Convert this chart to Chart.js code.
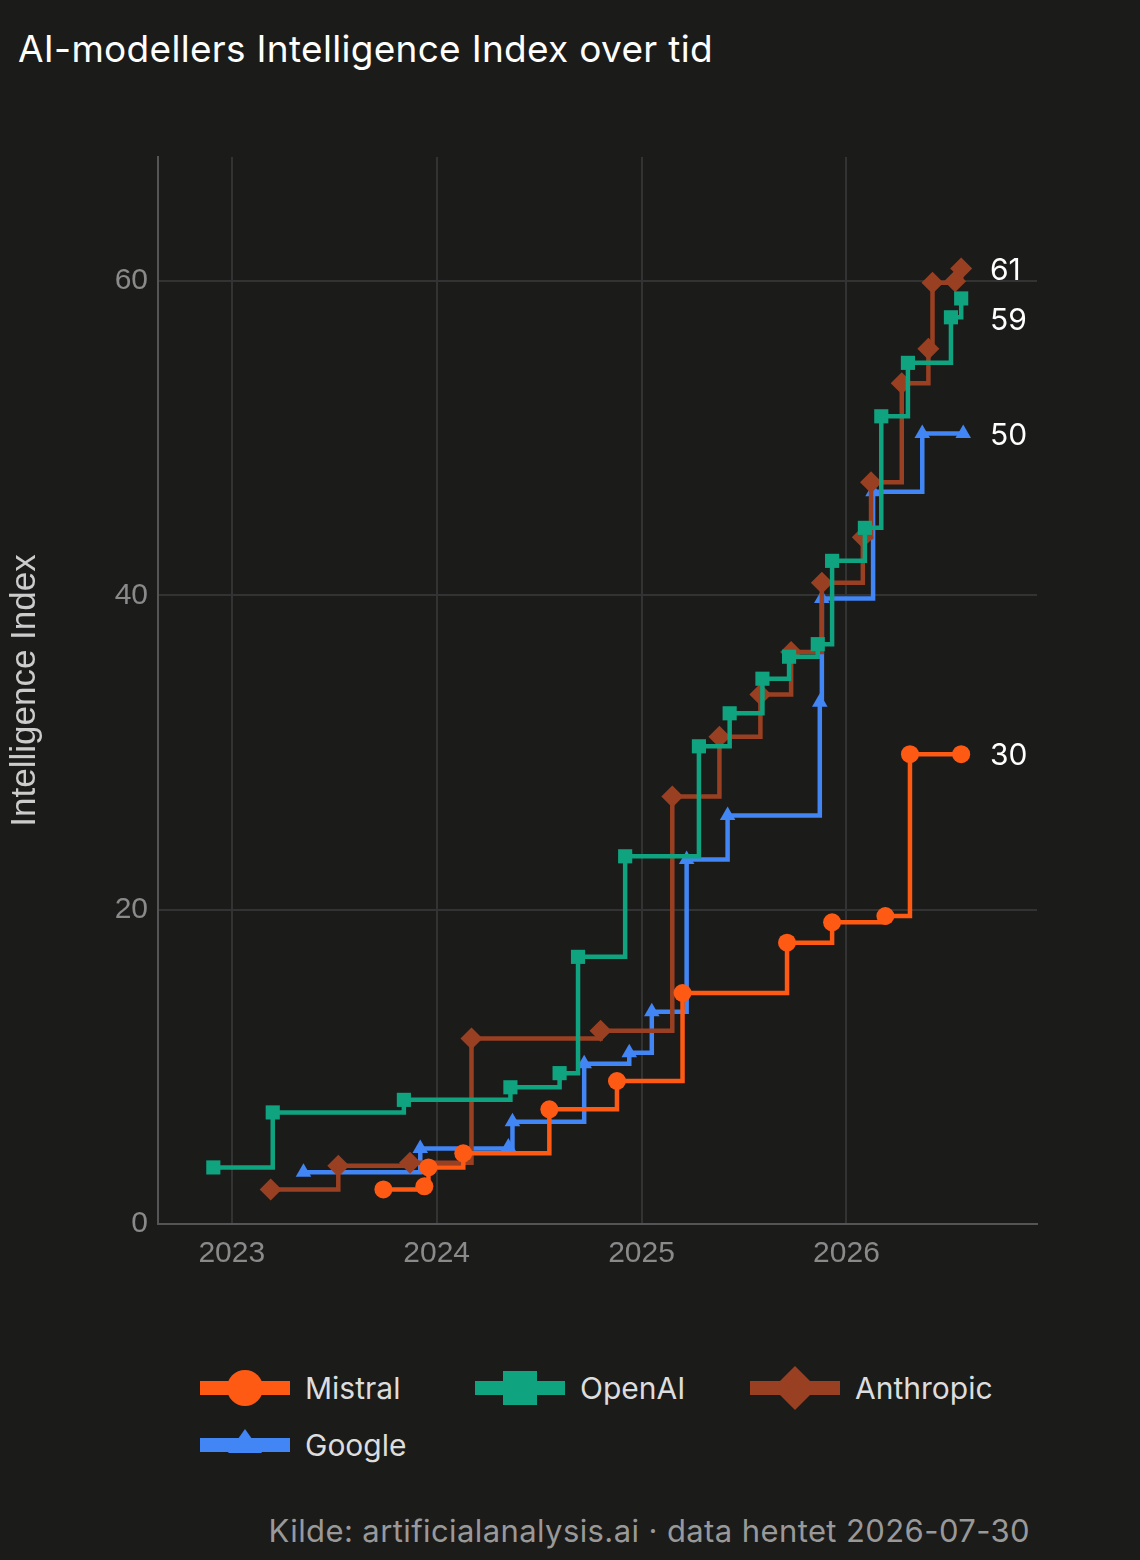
<!DOCTYPE html>
<html>
<head>
<meta charset="utf-8">
<script src="https://cdn.jsdelivr.net/npm/chart.js@4"></script>
<style>
  body { margin: 0; background: #1b1b1a; width: 1140px; height: 1560px; position: relative; overflow: hidden; font-family: Inter, "Noto Sans", sans-serif; }
  #title { position: absolute; left: 18px; top: 26px; color: #fff; font-size: 37px; letter-spacing: 0.3px; }
  #wrap { position: absolute; left: 0; top: 0; width: 1140px; height: 1300px; }
  .leg { position: absolute; color: #ddd; font-size: 30px; display: flex; align-items: center; }
  .leg canvas { margin-right: 15px; }
  #src { position: absolute; right: 110px; top: 1512px; color: #999; font-size: 31px; letter-spacing: 0.4px; }
</style>
</head>
<body>
<div id="title">AI-modellers Intelligence Index over tid</div>
<div id="wrap"><canvas id="chart"></canvas></div>
<div id="legend"></div>
<div id="src">Kilde: artificialanalysis.ai · data hentet 2026-07-30</div>
<script>
const xTicks = [2023, 2024, 2025, 2026];

const mistralX = [2023.74, 2023.94, 2023.96, 2024.13, 2024.55, 2024.88, 2025.20, 2025.71, 2025.93, 2026.19, 2026.31, 2026.56];
const mistralY = [2.2, 2.4, 3.6, 4.5, 7.3, 9.1, 14.7, 17.9, 19.2, 19.6, 29.9, 29.9];

const openaiX = [2022.91, 2023.20, 2023.84, 2024.36, 2024.60, 2024.69, 2024.92, 2025.28, 2025.43, 2025.59, 2025.72, 2025.86, 2025.93, 2026.09, 2026.17, 2026.30, 2026.51, 2026.56];
const openaiY = [3.6, 7.1, 7.9, 8.7, 9.6, 17.0, 23.4, 30.4, 32.5, 34.7, 36.1, 36.9, 42.2, 44.3, 51.4, 54.8, 57.7, 58.9];

const anthropicX = [2023.19, 2023.52, 2023.87, 2024.17, 2024.80, 2025.15, 2025.38, 2025.58, 2025.73, 2025.88, 2026.08, 2026.12, 2026.27, 2026.40, 2026.42, 2026.53, 2026.56];
const anthropicY = [2.2, 3.7, 3.9, 11.8, 12.3, 27.2, 31.0, 33.7, 36.4, 40.8, 43.7, 47.2, 53.5, 55.7, 59.9, 60.0, 60.8];

const googleX = [2023.35, 2023.92, 2024.35, 2024.37, 2024.72, 2024.94, 2025.05, 2025.22, 2025.42, 2025.87, 2025.88, 2026.13, 2026.37, 2026.57];
const googleY = [3.3, 4.8, 4.9, 6.5, 10.2, 10.9, 13.5, 23.2, 26.0, 33.2, 39.8, 46.6, 50.3, 50.3];

const endLabels = ['30', '59', '61', '50'];

const series = [
  { label: 'Mistral', xs: mistralX, ys: mistralY, color: '#ff5a14', style: 'circle', r: 9 },
  { label: 'OpenAI', xs: openaiX, ys: openaiY, color: '#10a37f', style: 'rect', r: 10 },
  { label: 'Anthropic', xs: anthropicX, ys: anthropicY, color: '#9a4022', style: 'rectRot', r: 11 },
  { label: 'Google', xs: googleX, ys: googleY, color: '#4285f4', style: 'triangle', r: 9 }
];

const endLabelPlugin = {
  id: 'endLabels',
  afterDatasetsDraw(chart) {
    const ctx = chart.ctx;
    const items = chart.data.datasets.map((ds, i) => {
      const meta = chart.getDatasetMeta(i);
      const pt = meta.data[meta.data.length - 1];
      return { y: pt.y, text: endLabels[i] };
    }).sort((a, b) => a.y - b.y);
    for (let i = 1; i < items.length; i++) {
      if (items[i].y - items[i - 1].y < 50) items[i].y = items[i - 1].y + 50;
    }
    ctx.save();
    ctx.fillStyle = '#fff';
    ctx.font = '30px Inter, "Noto Sans", sans-serif';
    ctx.textBaseline = 'middle';
    items.forEach(it => ctx.fillText(it.text, 990, it.y + 2));
    ctx.restore();
  }
};

new Chart(document.getElementById('chart'), {
  type: 'line',
  data: {
    datasets: series.map(s => ({
      label: s.label,
      data: s.xs.map((x, i) => ({ x: x, y: s.ys[i] })),
      borderColor: s.color,
      backgroundColor: s.color,
      borderWidth: 4.5,
      stepped: 'before',
      pointStyle: s.style,
      pointRadius: s.r,
      pointHoverRadius: s.r,
      pointBorderWidth: 0
    }))
  },
  options: {
    responsive: true,
    maintainAspectRatio: false,
    animation: false,
    layout: { padding: { top: 157, right: 103, left: 0, bottom: 0 } },
    plugins: { legend: { display: false }, tooltip: { enabled: false } },
    scales: {
      x: {
        type: 'linear',
        min: 2022.64,
        max: 2026.93,
        afterBuildTicks: s => { s.ticks = xTicks.map(v => ({ value: v })); },
        afterFit: s => { s.height = 76; },
        ticks: { color: '#8a8a8a', font: { size: 30 }, padding: 12, callback: v => String(v) },
        grid: { color: '#333', lineWidth: 2, drawTicks: false },
        border: { color: '#555', width: 2 }
      },
      y: {
        min: 0,
        max: 67.9,
        afterBuildTicks: s => { s.ticks = [0, 20, 40, 60].map(v => ({ value: v })); },
        afterFit: s => { s.width = 158; },
        ticks: { color: '#8a8a8a', font: { size: 30 }, padding: 10 },
        grid: { color: '#333', lineWidth: 2, drawTicks: false },
        border: { color: '#555', width: 2 },
        title: { display: true, text: 'Intelligence Index', color: '#ccc', font: { size: 35 }, padding: { bottom: 20 } }
      }
    }
  },
  plugins: [endLabelPlugin]
});

// legend
const legendPos = [[200, 1388], [475, 1388], [750, 1388], [200, 1445]];
series.forEach((s, i) => {
  const div = document.createElement('div');
  div.className = 'leg';
  div.style.left = legendPos[i][0] + 'px';
  div.style.top = (legendPos[i][1] - 22) + 'px';
  const c = document.createElement('canvas');
  c.width = 90; c.height = 44;
  const g = c.getContext('2d');
  g.fillStyle = s.color;
  g.fillRect(0, 15, 90, 14);
  g.beginPath();
  if (s.style === 'circle') g.arc(45, 22, 18, 0, Math.PI * 2);
  else if (s.style === 'rect') g.rect(28, 5, 34, 34);
  else if (s.style === 'rectRot') { g.moveTo(45, 0); g.lineTo(67, 22); g.lineTo(45, 44); g.lineTo(23, 22); }
  else { g.moveTo(45, 6); g.lineTo(62, 30); g.lineTo(28, 30); }
  g.closePath();
  g.fill();
  div.appendChild(c);
  const t = document.createElement('span');
  t.textContent = s.label;
  div.appendChild(t);
  document.getElementById('legend').appendChild(div);
});
</script>
</body>
</html>
